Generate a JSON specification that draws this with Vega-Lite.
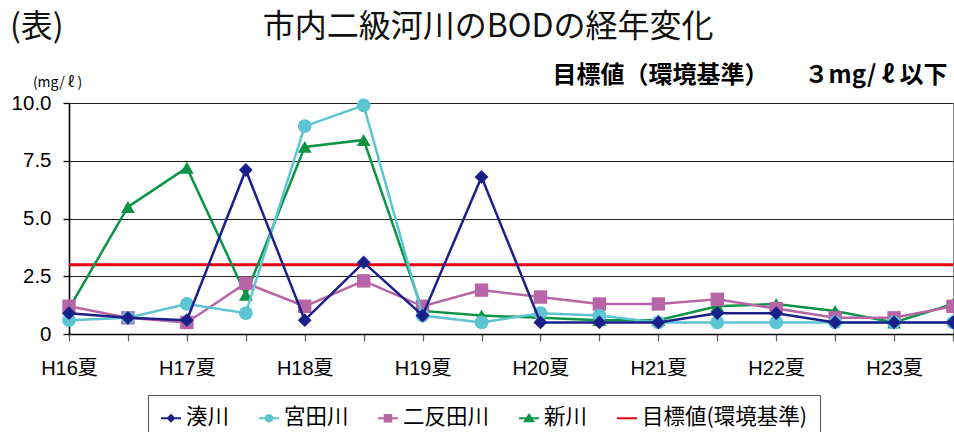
{
  "$schema": "https://vega.github.io/schema/vega-lite/v6.json",
  "width": 884,
  "height": 231,
  "autosize": {"type": "none"},
  "padding": {"left": 69, "top": 103, "right": 1, "bottom": 98},
  "background": "white",
  "title": {
    "text": "(表)　　　　　　 市内二級河川のBODの経年変化",
    "anchor": "start",
    "frame": "group",
    "dx": -59,
    "offset": 19,
    "font": "Noto Sans CJK JP",
    "fontSize": 32,
    "fontWeight": "normal",
    "color": "#111"
  },
  "config": {
    "view": {"fill": "#eeeeee", "stroke": "#888", "strokeWidth": 1}
  },
  "datasets": {
    "bod": [
      {"p": "H16夏", "series": "湊川", "v": 0.9}, {"p": "H16冬", "series": "湊川", "v": 0.7}, {"p": "H17夏", "series": "湊川", "v": 0.6}, {"p": "H17冬", "series": "湊川", "v": 7.1},
      {"p": "H18夏", "series": "湊川", "v": 0.6}, {"p": "H18冬", "series": "湊川", "v": 3.1}, {"p": "H19夏", "series": "湊川", "v": 0.8}, {"p": "H19冬", "series": "湊川", "v": 6.8},
      {"p": "H20夏", "series": "湊川", "v": 0.5}, {"p": "H20冬", "series": "湊川", "v": 0.5}, {"p": "H21夏", "series": "湊川", "v": 0.5}, {"p": "H21冬", "series": "湊川", "v": 0.9},
      {"p": "H22夏", "series": "湊川", "v": 0.9}, {"p": "H22冬", "series": "湊川", "v": 0.5}, {"p": "H23夏", "series": "湊川", "v": 0.5}, {"p": "H23冬", "series": "湊川", "v": 0.5},
      {"p": "H16夏", "series": "宮田川", "v": 0.6}, {"p": "H16冬", "series": "宮田川", "v": 0.7}, {"p": "H17夏", "series": "宮田川", "v": 1.3}, {"p": "H17冬", "series": "宮田川", "v": 0.9},
      {"p": "H18夏", "series": "宮田川", "v": 9.0}, {"p": "H18冬", "series": "宮田川", "v": 9.9}, {"p": "H19夏", "series": "宮田川", "v": 0.8}, {"p": "H19冬", "series": "宮田川", "v": 0.5},
      {"p": "H20夏", "series": "宮田川", "v": 0.9}, {"p": "H20冬", "series": "宮田川", "v": 0.8}, {"p": "H21夏", "series": "宮田川", "v": 0.5}, {"p": "H21冬", "series": "宮田川", "v": 0.5},
      {"p": "H22夏", "series": "宮田川", "v": 0.5}, {"p": "H22冬", "series": "宮田川", "v": 0.5}, {"p": "H23夏", "series": "宮田川", "v": 0.5}, {"p": "H23冬", "series": "宮田川", "v": 0.5},
      {"p": "H16夏", "series": "二反田川", "v": 1.2}, {"p": "H16冬", "series": "二反田川", "v": 0.7}, {"p": "H17夏", "series": "二反田川", "v": 0.5}, {"p": "H17冬", "series": "二反田川", "v": 2.2},
      {"p": "H18夏", "series": "二反田川", "v": 1.2}, {"p": "H18冬", "series": "二反田川", "v": 2.3}, {"p": "H19夏", "series": "二反田川", "v": 1.2}, {"p": "H19冬", "series": "二反田川", "v": 1.9},
      {"p": "H20夏", "series": "二反田川", "v": 1.6}, {"p": "H20冬", "series": "二反田川", "v": 1.3}, {"p": "H21夏", "series": "二反田川", "v": 1.3}, {"p": "H21冬", "series": "二反田川", "v": 1.5},
      {"p": "H22夏", "series": "二反田川", "v": 1.1}, {"p": "H22冬", "series": "二反田川", "v": 0.7}, {"p": "H23夏", "series": "二反田川", "v": 0.7}, {"p": "H23冬", "series": "二反田川", "v": 1.2},
      {"p": "H16夏", "series": "新川", "v": 1.1}, {"p": "H16冬", "series": "新川", "v": 5.5}, {"p": "H17夏", "series": "新川", "v": 7.2}, {"p": "H17冬", "series": "新川", "v": 1.7},
      {"p": "H18夏", "series": "新川", "v": 8.1}, {"p": "H18冬", "series": "新川", "v": 8.4}, {"p": "H19夏", "series": "新川", "v": 1.0}, {"p": "H19冬", "series": "新川", "v": 0.8},
      {"p": "H20夏", "series": "新川", "v": 0.7}, {"p": "H20冬", "series": "新川", "v": 0.6}, {"p": "H21夏", "series": "新川", "v": 0.6}, {"p": "H21冬", "series": "新川", "v": 1.2},
      {"p": "H22夏", "series": "新川", "v": 1.3}, {"p": "H22冬", "series": "新川", "v": 1.0}, {"p": "H23夏", "series": "新川", "v": 0.5}, {"p": "H23冬", "series": "新川", "v": 1.3}
    ],
    "standard": [{"series": "目標値(環境基準)", "v": 3}],
    "legend": [
      {"series": "湊川"}, {"series": "宮田川"}, {"series": "二反田川"}, {"series": "新川"}, {"series": "目標値(環境基準)"}
    ]
  },
  "layer": [
    {
      "data": {"name": "standard"},
      "mark": {"type": "rule", "color": "#e60012", "strokeWidth": 3},
      "encoding": {
        "y": {
          "field": "v", "type": "quantitative",
          "scale": {"domain": [0, 10], "nice": false},
          "axis": {
            "orient": "left",
            "values": [0, 2.5, 5, 7.5, 10],
            "labelExpr": "datum.value == 0 ? '0' : format(datum.value, '.1f')",
            "labelFont": "Liberation Sans", "labelFontSize": 20.5, "labelColor": "#000", "labelPadding": 12,
            "tickSize": 6, "tickColor": "#000", "tickWidth": 1.3,
            "domainColor": "#000", "domainWidth": 1.6,
            "grid": true, "gridColor": "#222", "gridWidth": 1.2,
            "title": "(mg/ ℓ )", "titleAngle": 0, "titleAlign": "center", "titleBaseline": "middle",
            "titleX": -12, "titleY": -21,
            "titleFont": "Noto Sans CJK JP", "titleFontSize": 14, "titleFontWeight": "normal", "titleColor": "#000"
          }
        }
      }
    },
    {
      "data": {"name": "bod"},
      "transform": [{"filter": "datum.series === '新川'"}],
      "mark": {"type": "line", "color": "#0b9445", "strokeWidth": 2.5,
        "point": {"filled": true, "shape": "triangle-up", "size": 190, "fill": "#0b9445"}},
      "encoding": {
        "x": {
          "field": "p", "type": "nominal",
          "scale": {"type": "point", "padding": 0,
            "domain": ["H16夏","H16冬","H17夏","H17冬","H18夏","H18冬","H19夏","H19冬","H20夏","H20冬","H21夏","H21冬","H22夏","H22冬","H23夏","H23冬"]},
          "axis": {
            "labelExpr": "indexof(datum.value, '夏') >= 0 ? datum.value : ''",
            "labelAngle": 0, "labelFont": "Liberation Sans, Noto Sans CJK JP", "labelFontSize": 20,
            "labelColor": "#000", "labelPadding": 17, "labelOverlap": false,
            "tickSize": 7, "tickColor": "#666", "tickWidth": 1.3,
            "domainColor": "#000", "domainWidth": 1.6, "grid": false, "title": null
          }
        },
        "y": {"field": "v", "type": "quantitative", "scale": {"domain": [0, 10], "nice": false}, "axis": null}
      }
    },
    {
      "data": {"name": "bod"},
      "transform": [{"filter": "datum.series === '二反田川'"}],
      "mark": {"type": "line", "color": "#b865a8", "strokeWidth": 2.5,
        "point": {"filled": true, "shape": "square", "size": 180, "fill": "#b865a8"}},
      "encoding": {
        "x": {"field": "p", "type": "nominal"},
        "y": {"field": "v", "type": "quantitative", "scale": {"domain": [0, 10], "nice": false}, "axis": null}
      }
    },
    {
      "data": {"name": "bod"},
      "transform": [{"filter": "datum.series === '宮田川'"}],
      "mark": {"type": "line", "color": "#5dc4d2", "strokeWidth": 2.5,
        "point": {"filled": true, "shape": "circle", "size": 190, "fill": "#5dc4d2"}},
      "encoding": {
        "x": {"field": "p", "type": "nominal"},
        "y": {"field": "v", "type": "quantitative", "scale": {"domain": [0, 10], "nice": false}, "axis": null}
      }
    },
    {
      "data": {"name": "bod"},
      "transform": [{"filter": "datum.series === '湊川'"}],
      "mark": {"type": "line", "color": "#1b1f8a", "strokeWidth": 2.5,
        "point": {"filled": true, "shape": "diamond", "size": 190, "fill": "#1b1f8a"}},
      "encoding": {
        "x": {"field": "p", "type": "nominal"},
        "y": {
          "field": "v", "type": "quantitative", "scale": {"domain": [0, 10], "nice": false},
          "axis": {
            "orient": "right", "labels": false, "ticks": false, "domain": false, "grid": false,
            "title": "目標値（環境基準）　　３mg/ ℓ 以下",
            "titleAngle": 0, "titleAlign": "right", "titleBaseline": "middle",
            "titleX": -6, "titleY": -28,
            "titleFont": "Noto Sans CJK JP", "titleFontSize": 24, "titleFontWeight": "bold", "titleColor": "#000"
          }
        }
      }
    },
    {
      "data": {"name": "legend"},
      "mark": {"type": "point", "filled": true, "opacity": 0},
      "encoding": {
        "color": {
          "field": "series", "type": "nominal",
          "scale": {
            "domain": ["湊川", "宮田川", "二反田川", "新川", "目標値(環境基準)"],
            "range": ["#1b1f8a", "#5dc4d2", "#b865a8", "#0b9445", "#e60012"]
          },
          "legend": {
            "orient": "none", "legendX": 79, "legendY": 292, "direction": "horizontal", "columns": 5,
            "title": null, "strokeColor": "#555", "padding": 12,
            "symbolSize": 400, "symbolStrokeWidth": 2, "symbolOpacity": 1,
            "labelFont": "Noto Sans CJK JP", "labelFontSize": 21.5, "labelColor": "#000", "labelOffset": 4,
            "labelLimit": 400,
            "columnPadding": 25,
            "encode": {
              "symbols": {"update": {
                "stroke": {"scale": "color", "field": "value"},
                "strokeWidth": {"value": 2},
                "opacity": {"value": 1}
              }}
            }
          }
        },
        "shape": {
          "field": "series", "type": "nominal",
          "scale": {
            "domain": ["湊川", "宮田川", "二反田川", "新川", "目標値(環境基準)"],
            "range": [
              "M-1,0H1M0,-0.32L0.32,0L0,0.32L-0.32,0Z",
              "M-1,0H1M-0.33,0A0.33,0.33,0,1,0,0.33,0A0.33,0.33,0,1,0,-0.33,0Z",
              "M-1,0H1M-0.33,-0.33H0.33V0.33H-0.33Z",
              "M-1,0H1M0,-0.35L0.42,0.3H-0.42Z",
              "M-1,0H1"
            ]
          }
        }
      }
    }
  ],
  "resolve": {"axis": {"y": "independent"}}
}
